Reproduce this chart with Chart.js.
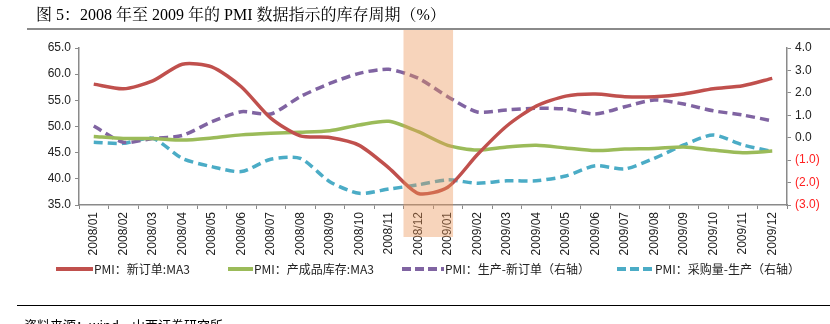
<!DOCTYPE html>
<html><head><meta charset="utf-8">
<script src="https://cdn.jsdelivr.net/npm/chart.js@4/dist/chart.umd.min.js"></script>
<style>
html,body{margin:0;padding:0;background:#fff;}
#wrap{position:relative;width:830px;height:324px;overflow:hidden;background:#fff;}
#c{position:absolute;left:0;top:0;}
#title{position:absolute;left:36px;top:2px;font:16px "Liberation Serif","Noto Serif CJK SC","Noto Sans CJK SC",serif;color:#000;white-space:nowrap;}
#tline{position:absolute;left:27px;right:0;top:28px;height:2px;background:#8a8a8a;}
#legend{position:absolute;left:0;top:261px;width:830px;font:12px "Noto Sans CJK SC",sans-serif;color:#222;white-space:nowrap;}
.li{position:absolute;top:0;height:16px;line-height:16px;}
.sw{position:absolute;top:6px;height:4px;}
#bline{position:absolute;left:17px;right:0;top:305px;height:1px;background:#000;}
#src{position:absolute;left:24px;top:315px;font:13px "Noto Sans CJK SC",sans-serif;color:#000;white-space:nowrap;}
</style></head>
<body><div id="wrap">
<canvas id="c" width="830" height="324"></canvas>
<div id="title">图 5：2008 年至 2009 年的 PMI 数据指示的库存周期（%）</div>
<div id="tline"></div>
<div id="legend"></div>
<div id="bline"></div>
<div id="src">资料来源：wind，山西证券研究所</div>
</div>
<script>
const categories = ['2008/01','2008/02','2008/03','2008/04','2008/05','2008/06','2008/07','2008/08','2008/09','2008/10','2008/11','2008/12',
  '2009/01','2009/02','2009/03','2009/04','2009/05','2009/06','2009/07','2009/08','2009/09','2009/10','2009/11','2009/12'];
const newOrdersMA3 = [58.1,57.2,58.7,61.9,61.4,57.6,51.6,48.2,47.9,46.4,42.1,37.2,
  38.4,44.6,50.1,53.9,55.8,56.2,55.7,55.7,56.2,57.2,57.8,59.2];
const finishedInvMA3 = [48.1,47.7,47.7,47.4,47.8,48.4,48.7,48.9,49.2,50.3,51.0,49.0,
  46.4,45.5,46.1,46.4,45.9,45.4,45.7,45.8,46.1,45.5,45.0,45.3];
const prodMinusOrders = [0.52,-0.2,-0.03,0.1,0.71,1.16,1.06,1.83,2.42,2.87,3.05,2.65,
  1.83,1.15,1.24,1.31,1.28,1.06,1.38,1.68,1.5,1.2,1.01,0.75];
const purchMinusProd = [-0.2,-0.25,-0.03,-0.92,-1.29,-1.51,-0.96,-0.92,-1.96,-2.48,-2.29,-2.1,
  -1.88,-2.03,-1.92,-1.92,-1.71,-1.25,-1.39,-0.92,-0.32,0.12,-0.32,-0.62];
const leftTicks = {min:35, max:65, step:5};
const rightTicks = {min:-3, max:4, step:1};
const seriesNames = ['PMI：新订单:MA3','PMI：产成品库存:MA3','PMI：生产-新订单（右轴）','PMI：采购量-生产（右轴）'];
const bandStart = '2008/12', bandEnd = '2009/01';

const colors = ['#c0504d','#9bbb59','#8064a2','#4bacc6'];

const bandPlugin = {
  id:'band',
  afterDatasetsDraw(chart){
    const x = chart.scales.x, ca = chart.chartArea, ctx = chart.ctx;
    const w = x.getPixelForValue(1) - x.getPixelForValue(0);
    const l = x.getPixelForValue(categories.indexOf(bandStart)) - w/2;
    const r = x.getPixelForValue(categories.indexOf(bandEnd)) + w*0.18;
    ctx.save();
    ctx.fillStyle = 'rgba(235,148,85,0.4)';
    ctx.fillRect(l, ca.top-18, r-l, ca.bottom + 32 - (ca.top-18));
    ctx.restore();
  }
};

const tickFont = {family:'"Liberation Sans", Arial, sans-serif', size:12};

new Chart(document.getElementById('c'), {
  type:'line',
  data:{
    labels:categories,
    datasets:[
      {label:seriesNames[0], data:newOrdersMA3, borderColor:colors[0], yAxisID:'y', borderWidth:3.5},
      {label:seriesNames[1], data:finishedInvMA3, borderColor:colors[1], yAxisID:'y', borderWidth:3.5},
      {label:seriesNames[2], data:prodMinusOrders, borderColor:colors[2], yAxisID:'y1', borderWidth:3.5, borderDash:[9,5]},
      {label:seriesNames[3], data:purchMinusProd, borderColor:colors[3], yAxisID:'y1', borderWidth:3.5, borderDash:[9,5]}
    ]
  },
  options:{
    responsive:false, animation:false, devicePixelRatio:1,
    layout:{padding:{top:48,left:0,right:0,bottom:0}},
    elements:{point:{radius:0}, line:{tension:0.25, fill:false, borderCapStyle:'butt'}},
    plugins:{legend:{display:false}, tooltip:{enabled:false}},
    scales:{
      x:{
        offset:true,
        grid:{offset:true, drawOnChartArea:false, tickLength:4, color:'#8a8a8a', lineWidth:1},
        border:{color:'#8a8a8a', width:1.5},
        ticks:{minRotation:90, maxRotation:90, autoSkip:false, font:tickFont, color:'#222', padding:3},
        afterFit(s){ s.height = 119; }
      },
      y:{
        position:'left', min:leftTicks.min, max:leftTicks.max,
        grid:{drawOnChartArea:false, tickLength:4, color:'#8a8a8a'},
        border:{color:'#8a8a8a', width:1.5},
        ticks:{stepSize:leftTicks.step, font:tickFont, color:'#222', padding:4, callback:v=>v.toFixed(1)},
        afterFit(s){ s.width = 79; }
      },
      y1:{
        position:'right', min:rightTicks.min, max:rightTicks.max,
        grid:{drawOnChartArea:false, tickLength:4, color:'#8a8a8a'},
        border:{color:'#8a8a8a', width:1.5},
        ticks:{stepSize:rightTicks.step, font:tickFont, padding:4,
          color:(c)=> c.tick.value < 0 ? '#ff2020' : '#222',
          callback:v=> v < 0 ? '(' + Math.abs(v).toFixed(1) + ')' : v.toFixed(1)},
        afterFit(s){ s.width = 43; }
      }
    }
  },
  plugins:[bandPlugin]
});

// legend
const lg = document.getElementById('legend');
const legendX = [56, 228, 402, 617];
const swW = [37, 25, 42, 37];
seriesNames.forEach((n,i)=>{
  const d = document.createElement('div'); d.className='li';
  d.style.left = legendX[i]+'px';
  const sw = document.createElement('div'); sw.className='sw';
  sw.style.left='0px'; sw.style.width=swW[i]+'px';
  if(i<2){ sw.style.background=colors[i]; }
  else { sw.style.background='repeating-linear-gradient(90deg,'+colors[i]+' 0 9px, transparent 9px 13px)'; }
  const t = document.createElement('span'); t.textContent=n;
  t.style.position='absolute'; t.style.left=(swW[i]+1)+'px';
  d.appendChild(sw); d.appendChild(t); lg.appendChild(d);
});
</script>
</body></html>
